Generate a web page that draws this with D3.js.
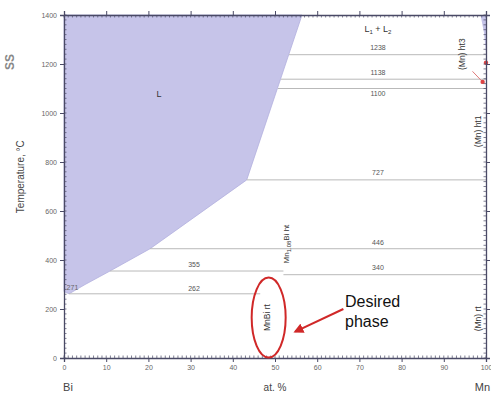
<!DOCTYPE html>
<html>
<head>
<meta charset="utf-8">
<script src="https://cdn.jsdelivr.net/npm/d3@7/dist/d3.min.js"></script>
<style>
  html, body { margin: 0; padding: 0; background: #fff; }
  svg text { font-family: "Liberation Sans", Arial, sans-serif; }
</style>
</head>
<body>
<svg id="chart" width="491" height="396"></svg>
<script>
// Bi–Mn phase diagram: temperature (°C) versus composition (at. % Mn)
const tempTicks = [0, 200, 400, 600, 800, 1000, 1200, 1400];
const compTicks = [0, 10, 20, 30, 40, 50, 60, 70, 80, 90, 100];

// Liquid field (L), Bi-rich side: [at.% Mn, °C]
const liquidBoundary = [[0, 271], [1.2, 262], [5, 300], [10.9, 355], [20.4, 446],
                        [43.3, 727], [56.4, 1400], [0, 1400]];
// Liquid field next to pure Mn
const mnLiquid = [[98.7, 1400], [100, 1400], [100, 1246], [99.5, 1330]];

// Invariant isotherms: temperature, start and end composition, label position
const isothermT     = [1238, 1138, 1100, 727, 446, 355, 340, 262];
const isothermFrom  = [53.3, 51.4, 50.7, 43.3, 20.4, 10.9, 52.0, 1.2];
const isothermTo    = [100, 100, 100, 100, 100, 52.0, 100, 46.5];
const isothermLabX  = [74.4, 74.4, 74.4, 74.4, 74.4, 30.8, 74.4, 30.8];
const isothermLabDy = [-5, -4, 7, -5, -4, -4, -5, -3];

// Solvus segment near Mn (red)
const mnSolvus = [[96.8, 1170], [99.2, 1127]];
const mnPoints = [[100, 1205], [99.2, 1127]];

const svg = d3.select("#chart");
const x = d3.scaleLinear().domain([0, 100]).range([64, 486]);
const y = d3.scaleLinear().domain([0, 1400]).range([358, 15]);

const axisColor = "#4a4a66";
const lineColor = "#b9b9b9";

// liquid regions
const line = d3.line().x(d => x(d[0])).y(d => y(d[1]));
svg.append("path").attr("d", line(liquidBoundary) + "Z")
  .attr("fill", "#c6c4e9").attr("stroke", "#b3b0de").attr("stroke-width", 0.8);
svg.append("path").attr("d", line(mnLiquid) + "Z")
  .attr("fill", "#c6c4e9").attr("stroke", "none");

// isotherms
isothermT.forEach((t, i) => {
  svg.append("line")
    .attr("x1", x(isothermFrom[i])).attr("x2", x(isothermTo[i]))
    .attr("y1", y(t)).attr("y2", y(t))
    .attr("stroke", lineColor).attr("stroke-width", 1);
  svg.append("text")
    .attr("x", x(isothermLabX[i])).attr("y", y(t) + isothermLabDy[i])
    .attr("text-anchor", "middle").attr("font-size", 7).attr("fill", "#555")
    .text(t);
});

// Bi melting point label
svg.append("text").attr("x", x(2)).attr("y", y(271) - 2)
  .attr("text-anchor", "middle").attr("font-size", 7).attr("fill", "#666").text("271");

// red solvus near Mn
svg.append("path").attr("d", line(mnSolvus))
  .attr("stroke", "#e07a7a").attr("stroke-width", 1).attr("fill", "none");
svg.selectAll("circle.mn").data(mnPoints).join("circle")
  .attr("cx", d => x(d[0])).attr("cy", d => y(d[1])).attr("r", 2.2)
  .attr("fill", "#d44");

// axes (all four sides, with minor ticks)
const minorX = d3.range(0, 101, 1);
const minorY = d3.range(0, 1401, 20);

const axisBottomG = svg.append("g").attr("transform", `translate(0,${y(0)})`)
  .call(d3.axisBottom(x).tickValues(compTicks).tickSize(4).tickFormat(d3.format("d")));
const axisTopG = svg.append("g").attr("transform", `translate(0,${y(1400)})`)
  .call(d3.axisTop(x).tickValues(compTicks).tickSize(4).tickFormat(""));
const axisLeftG = svg.append("g").attr("transform", `translate(${x(0)},0)`)
  .call(d3.axisLeft(y).tickValues(tempTicks).tickSize(4).tickFormat(d3.format("d")));
const axisRightG = svg.append("g").attr("transform", `translate(${x(100)},0)`)
  .call(d3.axisRight(y).tickValues(tempTicks).tickSize(4).tickFormat(""));

[axisBottomG, axisTopG, axisLeftG, axisRightG].forEach(g => {
  g.select(".domain").attr("stroke", axisColor).attr("stroke-width", 1.3);
  g.selectAll(".tick line").attr("stroke", axisColor);
  g.selectAll(".tick text").attr("fill", "#666").attr("font-size", 7)
    .attr("font-family", "Liberation Sans, Arial, sans-serif");
});

// minor ticks, pointing inward
const minor = svg.append("g").attr("stroke", axisColor).attr("stroke-width", 0.7);
minorX.forEach(v => {
  minor.append("line").attr("x1", x(v)).attr("x2", x(v)).attr("y1", y(0)).attr("y2", y(0) - 2.5);
  minor.append("line").attr("x1", x(v)).attr("x2", x(v)).attr("y1", y(1400)).attr("y2", y(1400) + 2.5);
});
minorY.forEach(v => {
  minor.append("line").attr("x1", x(0)).attr("x2", x(0) + 2.5).attr("y1", y(v)).attr("y2", y(v));
  minor.append("line").attr("x1", x(100)).attr("x2", x(100) - 2.5).attr("y1", y(v)).attr("y2", y(v));
});

// axis titles and end-member labels
svg.append("text").attr("transform", `translate(24,${y(740)}) rotate(-90)`)
  .attr("text-anchor", "middle").attr("font-size", 10).attr("fill", "#444")
  .text("Temperature, °C");
svg.append("text").attr("transform", "translate(14,62) rotate(-90)")
  .attr("text-anchor", "middle").attr("font-size", 12).attr("font-weight", "bold")
  .attr("fill", "#888").text("SS");
svg.append("text").attr("x", x(50)).attr("y", 391)
  .attr("text-anchor", "middle").attr("font-size", 10).attr("fill", "#444").text("at. %");
svg.append("text").attr("x", x(0) + 4).attr("y", 391)
  .attr("text-anchor", "middle").attr("font-size", 11).attr("fill", "#444").text("Bi");
svg.append("text").attr("x", 490).attr("y", 391)
  .attr("text-anchor", "end").attr("font-size", 11).attr("fill", "#444").text("Mn");

// phase field labels
svg.append("text").attr("x", x(22.5)).attr("y", y(1065))
  .attr("text-anchor", "middle").attr("font-size", 9).attr("fill", "#333").text("L");
svg.append("text").attr("x", x(74.4)).attr("y", y(1330))
  .attr("text-anchor", "middle").attr("font-size", 9).attr("fill", "#333")
  .html('L<tspan dy="2" font-size="6">1</tspan><tspan dy="-2"> + L</tspan><tspan dy="2" font-size="6">2</tspan>');

const vLabel = (xv, tv, html, size) => svg.append("text")
  .attr("transform", `translate(${x(xv)},${y(tv)}) rotate(-90)`)
  .attr("text-anchor", "middle").attr("dominant-baseline", "middle")
  .attr("font-size", size).attr("fill", "#333").html(html);

vLabel(48.3, 165, "MnBi rt", 8.5);
vLabel(52.8, 465, 'Mn<tspan font-size="6" dy="2">1.08</tspan><tspan dy="-2">Bi ht</tspan>', 8);
vLabel(94.5, 1240, "(Mn) ht3", 8.5);
vLabel(98.3, 925, "(Mn) ht1", 8.5);
vLabel(98.3, 160, "(Mn) rt", 8.5);

// highlight of the MnBi rt field
svg.append("ellipse").attr("cx", x(48.5)).attr("cy", y(165))
  .attr("rx", 17).attr("ry", 40)
  .attr("fill", "none").attr("stroke", "#d02828").attr("stroke-width", 2);

svg.append("defs").append("marker").attr("id", "head")
  .attr("viewBox", "0 0 10 10").attr("refX", 8).attr("refY", 5)
  .attr("markerWidth", 5).attr("markerHeight", 5).attr("orient", "auto")
  .append("path").attr("d", "M0,0 L10,5 L0,10 Z").attr("fill", "#d02828");
svg.append("line").attr("x1", x(66.2)).attr("y1", y(200))
  .attr("x2", x(54.8)).attr("y2", y(108))
  .attr("stroke", "#d02828").attr("stroke-width", 2).attr("marker-end", "url(#head)");

svg.append("text").attr("x", x(66.6)).attr("y", y(210))
  .attr("font-size", 16).attr("fill", "#111").text("Desired");
svg.append("text").attr("x", x(66.6)).attr("y", y(125))
  .attr("font-size", 16).attr("fill", "#111").text("phase");
</script>
</body>
</html>
